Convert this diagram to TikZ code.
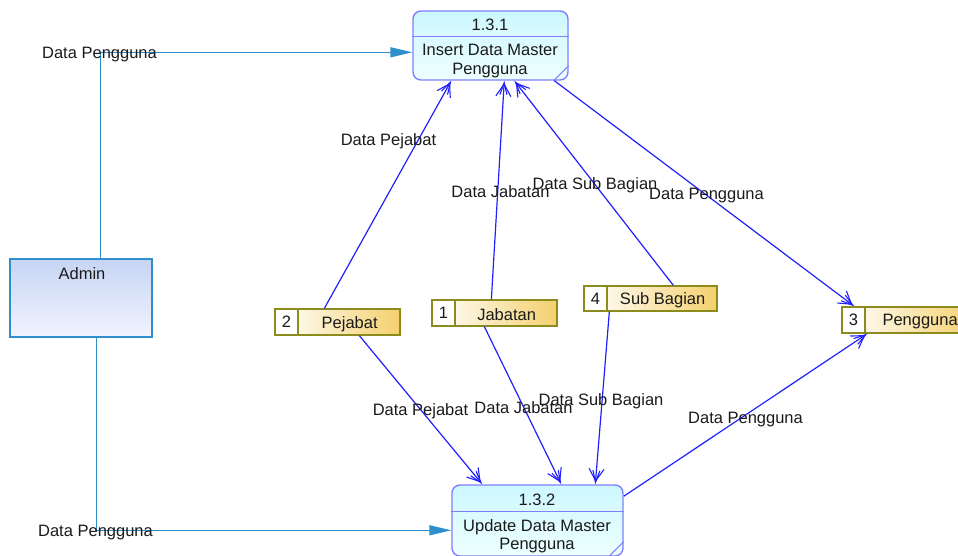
\documentclass[tikz,border=0pt]{standalone}
\usepackage{fontspec}
\setmainfont{Liberation Sans}
\usetikzlibrary{arrows.meta,calc}

\definecolor{procline}{HTML}{8080FF}
\definecolor{proctop}{HTML}{CCF8FF}
\definecolor{procbot}{HTML}{EEFFFF}
\definecolor{extline}{HTML}{2E8FCC}
\definecolor{exttop}{HTML}{C6D5F4}
\definecolor{extbot}{HTML}{F2F3FE}
\definecolor{storeline}{HTML}{8C8C1E}
\definecolor{storegold}{HTML}{F4D06E}
\definecolor{flowblue}{HTML}{2020FF}
\definecolor{inkgrey}{HTML}{1A1A1A}

% one data store: name, centre, width, height, number, title
\newcommand{\dfdstore}[6]{%
  \node[storebox, minimum width=#3, minimum height=#4] (#1) at #2 {};
  \node[storeid, minimum height=#4, anchor=west] (#1-id) at (#1.west) {#5};
  \node[txt] (#1-lbl) at ($(#1-id.east)!0.5!(#1.east)$) {#6};
}

\begin{document}
\begin{tikzpicture}[x=1pt, y=-1pt,
  font=\fontsize{16.5}{18.5}\selectfont,
  txt/.style={inner sep=0pt, text=inkgrey, align=center, yshift=-2pt},
  process/.style={draw=procline, line width=1.4pt, rounded corners=8pt,
    top color=proctop, bottom color=procbot, inner sep=0pt},
  external/.style={draw=extline, line width=1.4pt, shading angle=-45,
    top color=exttop, bottom color=extbot, inner sep=0pt},
  storebox/.style={draw=storeline, line width=1.3pt, left color=white,
    right color=storegold, inner sep=0pt},
  storeid/.style={draw=storeline, line width=1.3pt, fill=white, inner sep=0pt,
    minimum width=23pt, text=inkgrey},
  flow/.style={draw=flowblue, line width=1.2pt,
    -{Straight Barb[length=12pt,width=15pt,line width=1.1pt,sep=-12pt]Straight Barb[length=12pt,width=7pt,line width=1.1pt]}},
  feed/.style={draw=extline, line width=1.4pt, -{Triangle[length=22pt,width=10pt]}},
  flowlbl/.style={txt}
]
\useasboundingbox (0,0) rectangle (958,556);

% processes
\node[process, minimum width=155pt, minimum height=69pt] (p131) at (490.5,45.5) {};
\draw[procline, line width=1.2pt] ([yshift=-26pt]p131.north west) -- ([yshift=-26pt]p131.north east);
\draw[procline, line width=1.1pt] ([xshift=-15pt]p131.south east) -- ([yshift=15pt]p131.south east);
\node[txt] (p131-id) at (490,23) {1.3.1};
\node[txt] (p131-txt) at (490,59) {Insert Data Master\\Pengguna};

\node[process, minimum width=171pt, minimum height=71pt] (p132) at (537.5,520.5) {};
\draw[procline, line width=1.2pt] ([yshift=-27pt]p132.north west) -- ([yshift=-27pt]p132.north east);
\draw[procline, line width=1.1pt] ([xshift=-15pt]p132.south east) -- ([yshift=15pt]p132.south east);
\node[txt] (p132-id) at (537,498) {1.3.2};
\node[txt] (p132-txt) at (537,534) {Update Data Master\\Pengguna};

% external entity
\node[external, minimum width=142pt, minimum height=78pt] (admin) at (81,298) {};
\node[txt] (admin-txt) at (82,272) {Admin};

% data stores
\dfdstore{pejabat}{(337.5,322)}{125pt}{26pt}{2}{Pejabat}
\dfdstore{jabatan}{(494.5,313)}{125pt}{26pt}{1}{Jabatan}
\dfdstore{subbag}{(650.5,298.5)}{133pt}{25pt}{4}{Sub Bagian}
\dfdstore{pengguna}{(908,320)}{132pt}{26pt}{3}{Pengguna}

% admin feeds
\draw[feed] ([xshift=91pt]admin.north west) |- ([yshift=-42pt]p131.north west);
\draw[feed] ([xshift=87pt]admin.south west) |- ([yshift=-46pt]p132.north west);

% flows into and out of 1.3.1
\draw[flow] ([xshift=50pt]pejabat.north west) -- ([xshift=39pt]p131.south west);
\draw[flow] ([xshift=60pt]jabatan.north west) -- ([xshift=92pt]p131.south west);
\draw[flow] ([xshift=90pt]subbag.north west) -- ([xshift=102pt]p131.south west);
\draw[flow] ([xshift=142pt]p131.south west) -- ([xshift=13pt]pengguna.north west);

% flows into and out of 1.3.2
\draw[flow] ([xshift=85pt]pejabat.south west) -- ([xshift=31pt]p132.north west);
\draw[flow] ([xshift=53pt]jabatan.south west) -- ([xshift=110pt]p132.north west);
\draw[flow] ([xshift=26pt]subbag.south west) -- ([xshift=144pt]p132.north west);
\draw[flow] ([yshift=-12pt]p132.north east) -- ([xshift=26pt]pengguna.south west);

% flow labels
\node[flowlbl] (l1) at (99.5,53) {Data Pengguna};
\node[flowlbl] (l2) at (95.5,531) {Data Pengguna};
\node[flowlbl] (l3) at (388.5,139) {Data Pejabat};
\node[flowlbl] (l4) at (500.5,190) {Data Jabatan};
\node[flowlbl] (l5) at (595,183) {Data Sub Bagian};
\node[flowlbl] (l6) at (706.5,194) {Data Pengguna};
\node[flowlbl] (l7) at (420.5,409) {Data Pejabat};
\node[flowlbl] (l8) at (523.5,406) {Data Jabatan};
\node[flowlbl] (l9) at (601,399) {Data Sub Bagian};
\node[flowlbl] (l10) at (745.5,418) {Data Pengguna};
\end{tikzpicture}
\end{document}
